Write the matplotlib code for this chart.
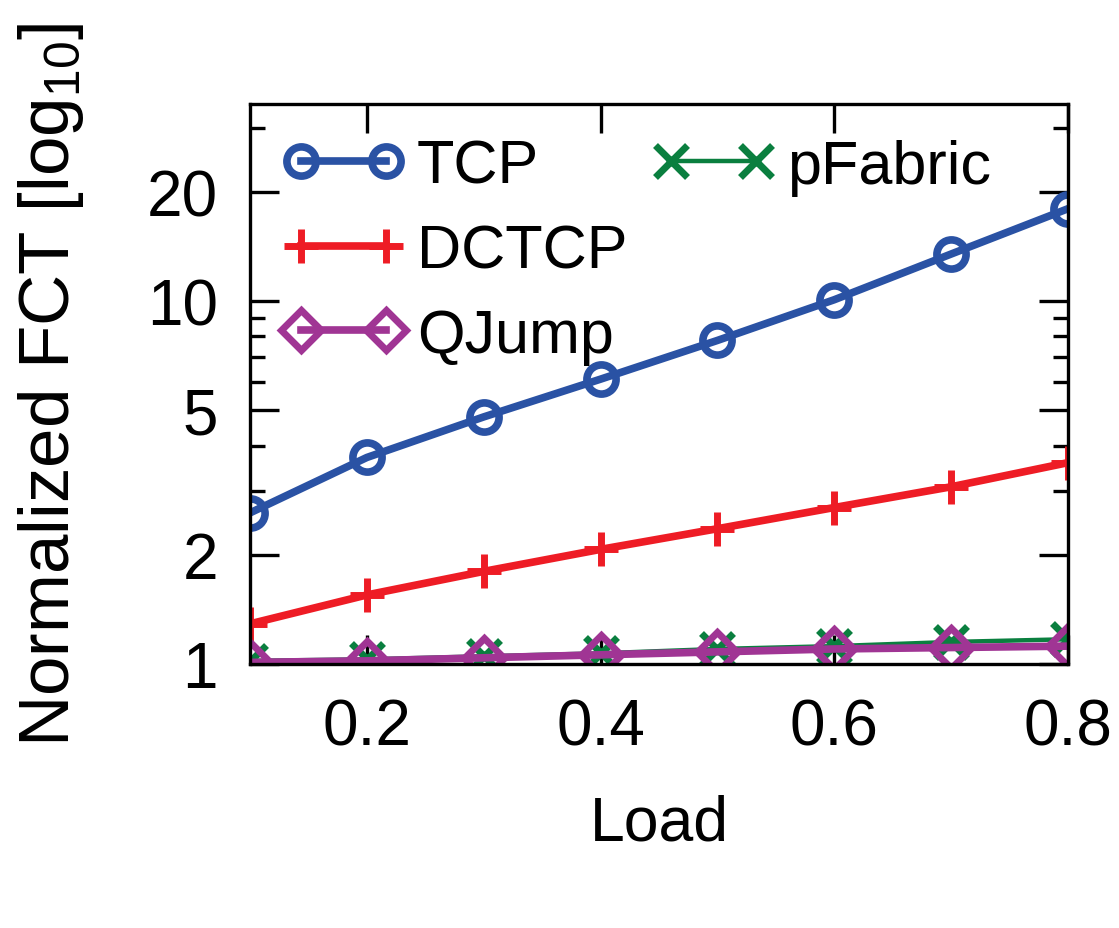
import matplotlib
matplotlib.use('Agg')
import matplotlib.pyplot as plt
from matplotlib.lines import Line2D
import matplotlib.ticker as tck

plt.rcParams['font.family'] = ['Liberation Sans', 'DejaVu Sans']

# data
load = [0.1, 0.2, 0.3, 0.4, 0.5, 0.6, 0.7, 0.8]
tcp = [2.61, 3.71, 4.80, 6.10, 7.80, 10.1, 13.5, 18.0]
dctcp = [1.29, 1.55, 1.80, 2.07, 2.36, 2.70, 3.08, 3.59]
pfabric = [1.02, 1.03, 1.05, 1.07, 1.10, 1.12, 1.15, 1.17]
qjump = [1.01, 1.02, 1.04, 1.06, 1.08, 1.10, 1.11, 1.12]

xticks = [0.2, 0.4, 0.6, 0.8]
yticks = [1, 2, 5, 10, 20]

BLUE, RED, GREEN, PURPLE = '#2a52a4', '#ee1c25', '#0a7f3f', '#a03594'

fig = plt.figure(figsize=(11.19, 9.29), dpi=100)
ax = fig.add_axes([0.2234, 0.2842, 0.7310, 0.6028])

h_tcp, = ax.plot(load, tcp, '-o', color=BLUE, lw=5.5, ms=21, mew=5.5,
                 mfc='none', label='TCP')
h_dctcp, = ax.plot(load, dctcp, '-+', color=RED, lw=5.5, ms=24, mew=5,
                   label='DCTCP')
h_pf, = ax.plot(load, pfabric, '-x', color=GREEN, lw=3.2, ms=23, mew=5,
                label='pFabric')
h_qj, = ax.plot(load, qjump, '-D', color=PURPLE, lw=5.5, ms=20, mew=5,
                mfc='none', label='QJump')

ax.set_yscale('log')
ax.set_xlim(0.1, 0.8)
ax.set_ylim(1, 35)
ax.set_xticks(xticks)
ax.set_xticklabels([f'{v:.1f}' for v in xticks])
ax.yaxis.set_major_locator(tck.FixedLocator(yticks))
ax.yaxis.set_major_formatter(tck.FixedFormatter([str(v) for v in yticks]))
ax.yaxis.set_minor_locator(tck.LogLocator(base=10, subs=range(2, 10)))
ax.yaxis.set_minor_formatter(tck.NullFormatter())

ax.tick_params(which='both', direction='in', top=True, right=True,
               width=2.4, colors='black')
ax.tick_params(which='major', length=21)
ax.tick_params(which='minor', length=11)
ax.tick_params(axis='x', which='major', labelsize=46, pad=24)
ax.tick_params(axis='y', which='major', labelsize=46, pad=23)
for s in ax.spines.values():
    s.set_linewidth(2.4)

ax.set_xlabel('Load', fontsize=45, labelpad=26)
ax.set_ylabel('Normalized FCT [log$_\\mathregular{10}$]', fontsize=51,
              family=['Liberation Sans Narrow', 'Liberation Sans'],
              labelpad=44)

blank = Line2D([], [], color='none')
leg = ax.legend([h_tcp, h_dctcp, h_qj, h_pf, blank, blank],
                ['TCP', 'DCTCP', 'QJump', 'pFabric', '', ''],
                ncol=2, loc='upper left', bbox_to_anchor=(0.01, 0.982),
                frameon=False, fontsize=44, numpoints=2,
                handlelength=2.0, handletextpad=0.2,
                columnspacing=0.41, labelspacing=0.45, borderaxespad=0)

fig.savefig('out.png', dpi=100)
